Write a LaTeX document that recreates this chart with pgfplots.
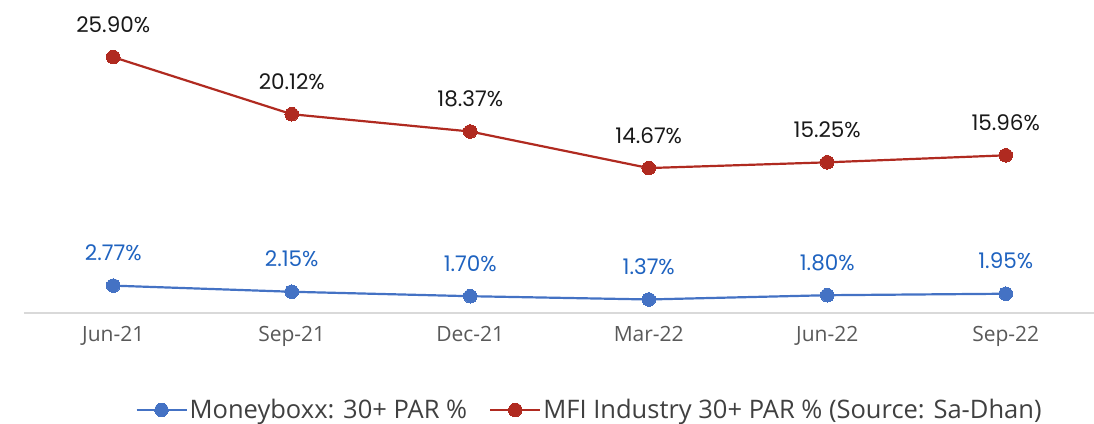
\documentclass[border=0pt]{standalone}
\usepackage{pgfplots}
\pgfplotsset{compat=1.18}
\usepackage{fontspec}
\setmainfont{Open Sans}
\newfontfamily\pop{Poppins}
\definecolor{redl}{HTML}{B02A20}
\definecolor{bluel}{HTML}{4472C4}
\definecolor{bluet}{HTML}{1F63C0}
\definecolor{tickc}{HTML}{595959}
\definecolor{axc}{HTML}{D9D9D9}
\definecolor{legc}{HTML}{404040}
\begin{document}
\begin{tikzpicture}[x=1pt,y=1pt]
\useasboundingbox (0,0) rectangle (1094,423);
\begin{axis}[
  at={(24pt,110pt)}, anchor=south west,
  scale only axis, width=1071pt, height=296.4pt,
  xmin=-0.5, xmax=5.5, ymin=0, ymax=30,
  axis y line=none, axis x line*=bottom,
  x axis line style={axc, line width=1.5pt},
  xtick={0,1,2,3,4,5},
  xticklabels={Jun-21,Sep-21,Dec-21,Mar-22,Jun-22,Sep-22},
  major tick length=0pt, ytick=\empty,
  xticklabel style={font=\fontsize{21}{24}\selectfont, text=tickc, yshift=-10pt},
  clip=false,
  point meta=explicit symbolic,
  nodes near coords,
  every node near coord/.append style={anchor=base, yshift=25pt, font=\pop\fontsize{21.5}{24}\selectfont},
  legend style={at={(0.528,-0.327)}, anchor=center, draw=none, fill=none,
    font=\fontsize{25.5}{28}\selectfont, text=legc, legend columns=2,
    /tikz/every even column/.append style={column sep=20pt}},
  legend image code/.code={\draw[mark repeat=2,mark phase=2,#1] plot coordinates {(0pt,0pt) (25pt,0pt) (50pt,0pt)};},
]
\addplot[color=bluel, line width=2.2pt, mark=*, mark size=6.8pt, mark options={fill=bluel, draw=bluel, line width=0pt},
  every node near coord/.append style={text=bluet}]
  table[meta=lab] {
x y lab
0 2.77 2.77\%
1 2.15 2.15\%
2 1.70 1.70\%
3 1.37 1.37\%
4 1.80 1.80\%
5 1.95 1.95\%
};
\addlegendentry{Moneyboxx: 30+ PAR \%}
\addplot[color=redl, line width=2.2pt, mark=*, mark size=6.8pt, mark options={fill=redl, draw=redl, line width=0pt},
  every node near coord/.append style={text=black!90}]
  table[meta=lab] {
x y lab
0 25.90 25.90\%
1 20.12 20.12\%
2 18.37 18.37\%
3 14.67 14.67\%
4 15.25 15.25\%
5 15.96 15.96\%
};
\addlegendentry{MFI Industry 30+ PAR \% (Source: Sa-Dhan)}
\end{axis}
\end{tikzpicture}
\end{document}
